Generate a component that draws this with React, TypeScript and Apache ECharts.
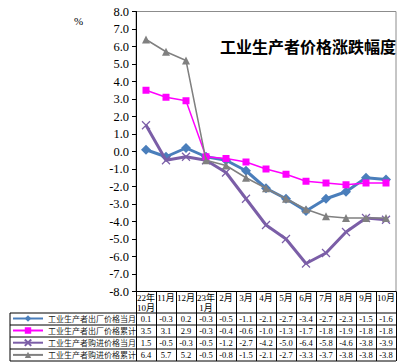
import React, { useEffect, useRef } from "react";
import * as echarts from "echarts";

const categories = ["22年\n10月", "11月", "12月", "23年\n1月", "2月", "3月", "4月", "5月", "6月", "7月", "8月", "9月", "10月"];
const seriesNames = ["工业生产者出厂价格当月", "工业生产者出厂价格累计", "工业生产者购进价格当月", "工业生产者购进价格累计"];
const outMonth = [0.1, -0.3, 0.2, -0.3, -0.5, -1.1, -2.1, -2.7, -3.4, -2.7, -2.3, -1.5, -1.6];
const outCum = [3.5, 3.1, 2.9, -0.3, -0.4, -0.6, -1.0, -1.3, -1.7, -1.8, -1.9, -1.8, -1.8];
const inMonth = [1.5, -0.5, -0.3, -0.5, -1.2, -2.7, -4.2, -5.0, -6.4, -5.8, -4.6, -3.8, -3.9];
const inCum = [6.4, 5.7, 5.2, -0.5, -0.8, -1.5, -2.1, -2.7, -3.3, -3.7, -3.8, -3.8, -3.8];
const titleText = "工业生产者价格涨跌幅度";

const SERIF = "'Liberation Serif', 'Noto Sans CJK SC', serif";
const colors = ["#4A7EBB", "#FF00FF", "#7B5EA7", "#808080"];

export default function App() {
  const ref = useRef<HTMLDivElement>(null);
  useEffect(() => {
    if (!ref.current) return;
    const chart = echarts.init(ref.current, undefined, { renderer: "svg" });
    const gridLeft = 136, gridTop = 11.5, gridW = 260, gridH = 280;
    const axisY = gridTop + gridH;
    const rows = [outMonth, outCum, inMonth, inCum];
    const rowTop = 313, rowH = 12;

    const valueAxes = rows.map((vals, r) => ({
      type: "category",
      gridIndex: 0,
      position: "bottom",
      offset: rowTop - axisY + r * rowH,
      data: categories,
      axisLine: { show: false, onZero: false },
      axisTick: { show: false },
      axisLabel: {
        interval: 0,
        margin: 2,
        fontSize: 8.5,
        fontFamily: SERIF,
        color: "#000",
        formatter: (_v: string, i: number) => vals[i].toFixed(1),
      },
    }));

    const lines: any[] = [];
    for (let r = 0; r <= 4; r++) {
      lines.push({
        type: "line",
        shape: { x1: 10, y1: rowTop + r * rowH, x2: gridLeft + gridW, y2: rowTop + r * rowH },
        style: { stroke: "#000", lineWidth: 1 },
        silent: true,
      });
    }
    lines.push({
      type: "line",
      shape: { x1: 10, y1: rowTop, x2: 10, y2: rowTop + 4 * rowH },
      style: { stroke: "#000", lineWidth: 1 },
    });

    const mk = (name: string, data: number[], color: string, width: number, symbol: string, size: number, z: number) => ({
      name,
      type: "line",
      data,
      xAxisIndex: 0,
      symbol,
      symbolSize: size,
      z,
      lineStyle: { color, width },
      itemStyle: { color, borderColor: color, borderWidth: symbol.startsWith("path") ? 1.2 : 0 },
    });

    chart.setOption({
      animation: false,
      grid: {
        left: gridLeft, top: gridTop, width: gridW, height: gridH,
        show: true, borderColor: "#8c8c8c", borderWidth: 1, backgroundColor: "transparent",
      },
      legend: {
        orient: "vertical",
        left: 12,
        top: rowTop + 1.5,
        itemWidth: 30,
        itemHeight: 8,
        itemGap: 4,
        padding: 0,
        selectedMode: false,
        textStyle: { fontSize: 8, color: "#222", fontFamily: "'Noto Sans CJK SC', sans-serif", padding: [0, 0, 0, 0] },
        data: seriesNames,
      },
      xAxis: [
        {
          type: "category",
          data: categories,
          boundaryGap: true,
          position: "bottom",
          axisLine: { show: true, onZero: false, lineStyle: { color: "#000", width: 1 } },
          axisTick: { show: true, interval: 0, length: rowTop + 4 * rowH - axisY, lineStyle: { color: "#000", width: 1 } },
          axisLabel: {
            interval: 0,
            margin: 1,
            fontSize: 9,
            lineHeight: 10,
            fontFamily: SERIF,
            color: "#000",
          },
          splitLine: { show: false },
        },
        ...valueAxes,
      ],
      yAxis: {
        type: "value",
        min: -8,
        max: 8,
        interval: 1,
        axisLine: { show: true, onZero: false, lineStyle: { color: "#000", width: 1 } },
        axisTick: { show: true, length: 4, lineStyle: { color: "#000" } },
        axisLabel: { margin: 7, fontSize: 12.5, fontFamily: SERIF, color: "#000", formatter: (v: number) => v.toFixed(1) },
        splitLine: { show: false },
      },
      graphic: [
        ...lines,
        {
          type: "text",
          left: 220,
          top: 38,
          style: { text: titleText, fontSize: 16, fontWeight: "bold", fontFamily: "'Noto Sans CJK SC', sans-serif", fill: "#000" },
        },
        {
          type: "text",
          left: 74,
          top: 15,
          style: { text: "%", fontSize: 11, fontFamily: SERIF, fill: "#000" },
        },
      ],
      series: [
        mk(seriesNames[0], outMonth, colors[0], 3, "diamond", 10, 2),
        mk(seriesNames[1], outCum, colors[1], 1.5, "rect", 7, 4),
        mk(seriesNames[2], inMonth, colors[2], 3, "path://M0,0L10,10M0,10L10,0", 8, 3),
        mk(seriesNames[3], inCum, colors[3], 1.5, "triangle", 8, 5),
      ],
    });
    return () => chart.dispose();
  }, []);
  return <div ref={ref} style={{ position: "absolute", left: 0, top: 0, width: 402, height: 364 }} />;
}
